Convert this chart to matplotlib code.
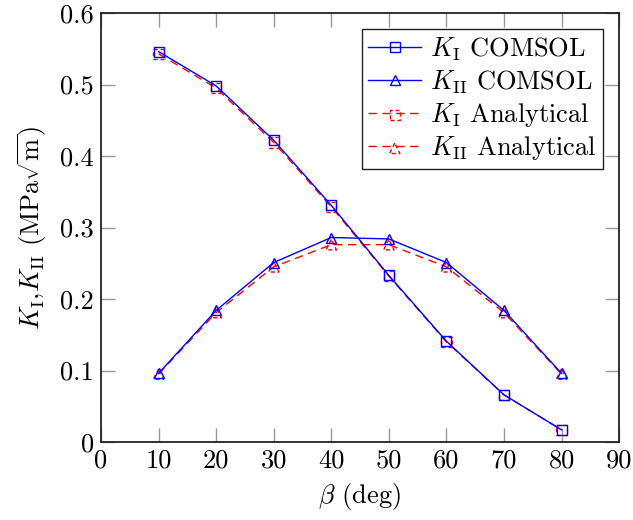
import matplotlib
matplotlib.use("Agg")
import matplotlib.pyplot as plt
from matplotlib.legend_handler import HandlerTuple

plt.rcParams["font.family"] = "cmr10"
plt.rcParams["mathtext.fontset"] = "cm"
plt.rcParams["axes.formatter.use_mathtext"] = True

beta = [10, 20, 30, 40, 50, 60, 70, 80]
k1_comsol = [0.546, 0.498, 0.422, 0.331, 0.233, 0.141, 0.066, 0.017]
k2_comsol = [0.096, 0.184, 0.251, 0.286, 0.284, 0.251, 0.184, 0.096]
k1_analytical = [0.543, 0.495, 0.419, 0.329, 0.232, 0.140, 0.066, 0.017]
k2_analytical = [0.095, 0.181, 0.245, 0.276, 0.276, 0.245, 0.181, 0.095]

labels = [r"$K_\mathrm{I}$ COMSOL", r"$K_\mathrm{II}$ COMSOL",
          r"$K_\mathrm{I}$ Analytical", r"$K_\mathrm{II}$ Analytical"]

xticks = [0, 10, 20, 30, 40, 50, 60, 70, 80, 90]
yticks = [0, 0.1, 0.2, 0.3, 0.4, 0.5, 0.6]
yticklabels = ["0", "0.1", "0.2", "0.3", "0.4", "0.5", "0.6"]

blue = "#0000ff"
red = "#ff0000"
dash = (0, (6, 4))
fs = 19
ms = 7.5

fig = plt.figure(figsize=(6.33, 5.2), dpi=100)
ax = fig.add_axes([0.1596, 0.15, 0.8184, 0.825])

# COMSOL results: solid lines with open markers
h1, = ax.plot(beta, k1_comsol, color=blue, lw=1.0, marker="s", ms=ms,
              mfc="none", mec=blue, mew=1.0, zorder=3)
h2, = ax.plot(beta, k2_comsol, color=blue, lw=1.0, marker="^", ms=ms,
              mfc="none", mec=blue, mew=1.0, zorder=3)

# Analytical solution: dashed lines, markers outlined with dashes too
l3, = ax.plot(beta, k1_analytical, color=red, lw=1.0, ls=dash, zorder=2)
l4, = ax.plot(beta, k2_analytical, color=red, lw=1.0, ls=dash, zorder=2)
s3 = ax.scatter(beta, k1_analytical, marker="s", s=ms ** 2, facecolors="none",
                edgecolors=red, linewidths=1.0, linestyles=(0, (3, 2)), zorder=2)
s4 = ax.scatter(beta, k2_analytical, marker="^", s=ms ** 2, facecolors="none",
                edgecolors=red, linewidths=1.0, linestyles=(0, (3, 2)), zorder=2)

ax.set_xlim(0, 90)
ax.set_ylim(0, 0.6)
ax.set_xticks(xticks)
ax.set_xticklabels([str(v) for v in xticks])
ax.set_yticks(yticks)
ax.set_yticklabels(yticklabels)
ax.tick_params(direction="in", length=10, width=1.0, color="#9a9a9a",
               top=True, right=True, labelsize=fs, pad=5)
for s in ax.spines.values():
    s.set_linewidth(1.3)
    s.set_color("#222222")

ax.set_xlabel(r"$\beta$ (deg)", fontsize=fs, labelpad=6)
ax.set_ylabel(r"$K_\mathrm{I}$,$K_\mathrm{II}$ (MPa$\sqrt{\mathrm{m}}$)",
              fontsize=fs, labelpad=8)

leg = ax.legend([h1, h2, (l3, s3), (l4, s4)], labels,
                handler_map={tuple: HandlerTuple(ndivide=1, pad=0)},
                scatterpoints=1,
                loc="upper right", fontsize=fs, frameon=True, fancybox=False,
                edgecolor="#222222", framealpha=1, borderpad=0.25,
                labelspacing=0.2, handlelength=2.0, handletextpad=0.35,
                borderaxespad=0.6)
leg.get_frame().set_linewidth(1.0)

fig.savefig("out.png", dpi=100)
